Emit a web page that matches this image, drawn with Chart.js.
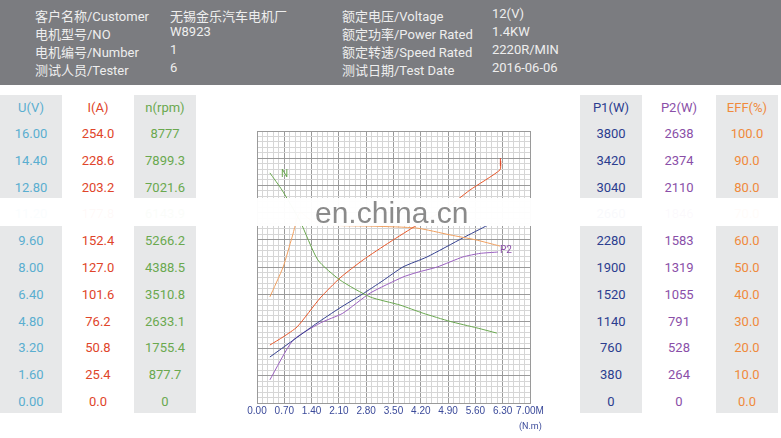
<!DOCTYPE html>
<html><head><meta charset="utf-8">
<script src="https://cdn.jsdelivr.net/npm/chart.js@4.4.0/dist/chart.umd.min.js"></script>
<style>
body{margin:0;width:781px;height:438px;overflow:hidden;background:#fff;font-family:Roboto,"Noto Sans CJK SC",sans-serif;position:relative}
#head{position:absolute;left:0;top:0;width:781px;height:85px;background:#7b7c80;color:#eee;font-size:13px}
#head div{position:absolute;white-space:nowrap}
.panel{position:absolute;top:95px;height:318px;width:62px}
.grey{background:#e7e8e9}
.cell{position:absolute;width:100%;text-align:center;font-size:13px}
#wrap{position:absolute;left:220px;top:120px;width:330px;height:318px}
#band{position:absolute;left:0;top:198px;width:781px;height:28px;background:rgba(255,255,255,0.97)}
#wm{position:absolute;left:315px;top:196px;font:30px "Liberation Sans",sans-serif;color:#8a8a8a}
.lbl{position:absolute;font-size:10px}
</style></head><body>
<div id="head"></div>
<div id="panels"></div>
<div id="wrap"><canvas id="c"></canvas></div>
<div class="lbl" style="left:281px;top:168px;color:#6aa84f">N</div>
<div class="lbl" style="left:499px;top:157px;color:#e0452a">I</div>
<div class="lbl" style="left:500px;top:244px;color:#8a4fa8">P2</div>
<div class="lbl" style="left:519px;top:421px;color:#3b4a9a;font-size:9px">(N.m)</div>
<div id="band"></div>
<div id="wm">en.china.cn</div>
<script>
// header info
const infoLeft = [["客户名称/Customer","无锡金乐汽车电机厂"],["电机型号/NO","W8923"],["电机编号/Number","1"],["测试人员/Tester","6"]];
const infoRight = [["额定电压/Voltage","12(V)"],["额定功率/Power Rated","1.4KW"],["额定转速/Speed Rated","2220R/MIN"],["测试日期/Test Date","2016-06-06"]];

// side scales (top to bottom)
const uV = ["16.00","14.40","12.80","11.20","9.60","8.00","6.40","4.80","3.20","1.60","0.00"];
const iA = ["254.0","228.6","203.2","177.8","152.4","127.0","101.6","76.2","50.8","25.4","0.0"];
const nRpm = ["8777","7899.3","7021.6","6143.9","5266.2","4388.5","3510.8","2633.1","1755.4","877.7","0"];
const p1W = ["3800","3420","3040","2660","2280","1900","1520","1140","760","380","0"];
const p2W = ["2638","2374","2110","1846","1583","1319","1055","791","528","264","0"];
const eff = ["100.0","90.0","80.0","70.0","60.0","50.0","40.0","30.0","20.0","10.0","0.0"];

// curves: torque (N.m) vs grid units 0..10
const nCurve = [[0.33,8.46],[0.64,7.83],[1.1,6.7],[1.56,5.26],[2.13,4.52],[2.9,3.9],[3.67,3.6],[4.26,3.3],[4.95,3.0],[5.64,2.76],[6.15,2.57]];
const iCurve = [[0.33,2.13],[0.67,2.43],[1.03,2.8],[1.62,3.86],[2.13,4.6],[2.72,5.26],[3.41,5.92],[4.1,6.54],[4.8,7.1],[5.46,7.83],[6.23,8.57],[6.25,8.9]];
const effCurve = [[0.33,3.9],[0.67,5.0],[0.9,6.1],[1.1,7.0],[1.4,6.7],[1.87,6.54],[3.0,6.5],[4.1,6.43],[4.95,6.18],[5.6,6.0],[6.23,5.77]];
const p1Curve = [[0.33,1.69],[0.92,2.3],[1.5,2.9],[2.13,3.5],[2.7,4.0],[3.23,4.5],[3.74,5.0],[4.36,5.37],[5.28,6.07],[5.92,6.54]];
const p2Curve = [[0.33,0.85],[0.92,2.3],[1.62,2.94],[2.2,3.3],[2.9,4.04],[3.74,4.63],[4.1,4.8],[4.62,5.0],[5.28,5.37],[5.72,5.5],[6.18,5.55]];

const head = document.getElementById("head");
function addInfo(list, x1, x2) {
  list.forEach((r, i) => {
    const y = 6 + i * 18;
    head.insertAdjacentHTML("beforeend", `<div style="left:${x1}px;top:${y}px">${r[0]}</div><div style="left:${x2}px;top:${y}px">${r[1]}</div>`);
  });
}
addInfo(infoLeft, 35, 170);
addInfo(infoRight, 342, 492);

const panels = document.getElementById("panels");
function addPanel(left, grey, title, vals, color) {
  let h = `<div class="panel${grey ? " grey" : ""}" style="left:${left}px">`;
  h += `<div class="cell" style="top:5px;color:${color}">${title}</div>`;
  vals.forEach((v, i) => { h += `<div class="cell" style="top:${31 + i * 26.8}px;color:${color}">${v}</div>`; });
  panels.insertAdjacentHTML("beforeend", h + "</div>");
}
addPanel(0, true, "U(V)", uV, "#5aaed0");
addPanel(67, false, "I(A)", iA, "#e0452a");
addPanel(134, true, "n(rpm)", nRpm, "#6aa84f");
addPanel(580, true, "P1(W)", p1W, "#2b3d8f");
addPanel(648, false, "P2(W)", p2W, "#8a4fa8");
addPanel(716, true, "EFF(%)", eff, "#f08a3c");

const pts = a => a.map(p => ({ x: p[0], y: p[1] }));
const ds = (d, c) => ({ data: pts(d), borderColor: c, borderWidth: 1, pointRadius: 0, tension: 0.2, fill: false });

new Chart(document.getElementById("c"), {
  type: "line",
  data: { datasets: [
    ds(nCurve, "#6aa84f"), ds(iCurve, "#e8582a"), ds(effCurve, "#f0a060"),
    ds(p1Curve, "#34408f"), ds(p2Curve, "#9a60c0")
  ] },
  options: {
    responsive: true, maintainAspectRatio: false, animation: false,
    layout: { padding: { left: 37, right: 20, top: 11, bottom: 0 } },
    plugins: { legend: { display: false }, tooltip: { enabled: false } },
    scales: {
      x: {
        type: "linear", min: 0, max: 7,
        afterBuildTicks: s => { s.ticks = []; for (let i = 0; i <= 50; i++) s.ticks.push({ value: i * 0.14 }); },
        afterFit: s => { s.height = 35; },
        ticks: { autoSkip: false, maxRotation: 0, color: "#3b4a9a", font: { size: 10 }, padding: 2,
          callback: (v, i) => i % 5 ? "" : (i === 50 ? "7.00M" : (i * 0.14).toFixed(2)) },
        grid: { color: c => c.index % 5 ? "#d6d6d6" : "#9a9a9a", tickLength: 0 },
        border: { color: "#9a9a9a" }
      },
      y: {
        min: 0, max: 10,
        afterBuildTicks: s => { s.ticks = []; for (let i = 0; i <= 50; i++) s.ticks.push({ value: i * 0.2 }); },
        afterFit: s => { s.width = 0; },
        ticks: { display: false },
        grid: { color: c => c.index % 5 ? "#d6d6d6" : "#9a9a9a", tickLength: 0 },
        border: { color: "#9a9a9a" }
      }
    }
  }
});
</script>
</body></html>
